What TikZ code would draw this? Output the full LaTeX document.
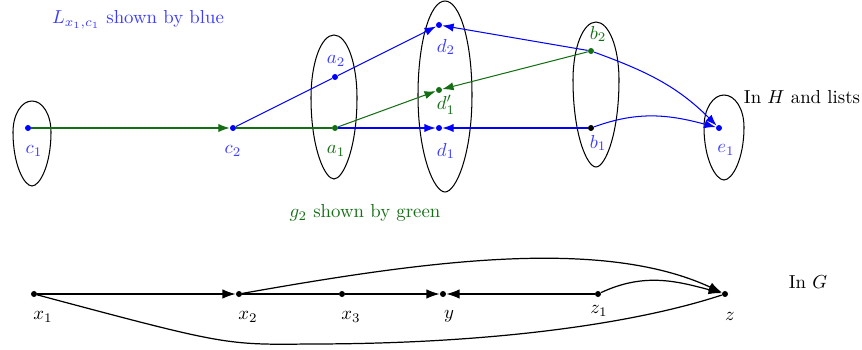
\documentclass[tikz,border=0pt]{standalone}
\usetikzlibrary{arrows.meta}
\newcommand{\eggshape}[5]{% cx, top, widest y, bottom, half-width
  \draw[egg] (#1,#2) .. controls ({#1-0.56*#5},#2) and ({#1-#5},{#3-0.56*(#3-#2)}) .. ({#1-#5},#3)
    .. controls ({#1-#5},{#3+0.62*(#4-#3)}) and ({#1-0.4*#5},#4) .. (#1,#4)
    .. controls ({#1+0.4*#5},#4) and ({#1+#5},{#3+0.62*(#4-#3)}) .. ({#1+#5},#3)
    .. controls ({#1+#5},{#3-0.56*(#3-#2)}) and ({#1+0.56*#5},#2) .. (#1,#2);}
\begin{document}
\begin{tikzpicture}[x=0.532pt,y=-0.532pt,
  dotnode/.style={circle,fill,inner sep=0pt,minimum size=3.2pt},
  lbl/.style={inner sep=0pt},
  arr/.style={-{Latex[length=6pt,width=4.4pt]}},
  barr/.style={-{Latex[length=7pt,width=5pt]}},
  toplines/.style={line width=0.55pt},
  botlines/.style={line width=0.65pt},
  egg/.style={line width=0.55pt}]
\definecolor{gr}{RGB}{20,110,20}
\definecolor{lblue}{RGB}{60,60,255}
\useasboundingbox (0,0) rectangle (862,350);

% ---------- top graph (H) ----------
\node[dotnode,blue] (c1) at (28,128) {};
\node[dotnode,blue] (c2) at (233,128) {};
\node[dotnode,blue] (a2) at (335,77) {};
\node[dotnode,gr] (a1) at (335,128) {};
\node[dotnode,blue] (d2) at (439,25) {};
\node[dotnode,gr] (d1p) at (439,90) {};
\node[dotnode,blue] (d1) at (439,128) {};
\node[dotnode,gr] (b2) at (591,51) {};
\node[dotnode,black] (b1) at (591,128) {};
\node[dotnode,blue] (e1) at (719,128) {};

% labels
\node[lbl,lblue] (lc1) at (34,151) {$c_1$};
\node[lbl,lblue] (lc2) at (233,151) {$c_2$};
\node[lbl,lblue] (la2) at (336,61) {$a_2$};
\node[lbl,gr] (la1) at (336,151) {$a_1$};
\node[lbl,lblue] (ld2) at (446,47) {$d_2$};
\node[lbl,gr] (ld1p) at (446,105) {$d_1'$};
\node[lbl,lblue] (ld1) at (446,151) {$d_1$};
\node[lbl,gr] (lb2) at (598,34) {$b_2$};
\node[lbl,lblue] (lb1) at (598,143) {$b_1$};
\node[lbl,lblue] (le1) at (726,150) {$e_1$};

% eggs
\eggshape{32}{101}{132}{186}{19}
\eggshape{334}{35}{98}{179}{23}
\eggshape{445}{1}{95}{192}{27}
\eggshape{596}{22}{80}{167}{23}
\eggshape{724}{95}{127}{180}{20}

% green edges
\draw[toplines,gr,arr] (c1) -- (c2);
\draw[toplines,gr] (c2) -- (a1);
\draw[toplines,gr,arr] (a1) -- (d1p);
\draw[toplines,gr,arr] (b2) -- (d1p);
% blue edges
\draw[toplines,blue] (c2) -- (a2);
\draw[toplines,blue,arr] (a2) -- (d2);
\draw[toplines,blue,arr] (b2) -- (d2);
\draw[toplines,blue,arr] (a1) -- (d1);
\draw[toplines,blue,arr] (b1) -- (d1);
\draw[toplines,blue,arr] (b2) to[out=-20,in=135] (e1);
\draw[toplines,blue,arr] (b1) to[out=20,in=165] (e1);

% texts
\node[lbl,lblue] (tL) at (138,20) {$L_{x_1,c_1}$ shown by blue};
\node[lbl,gr] (tg) at (365,213) {$g_2$ shown by green};
\node[lbl] (tH) at (802,97) {In $H$ and lists};

% ---------- bottom graph (G) ----------
\node[dotnode] (x1) at (34,294) {};
\node[dotnode] (x2) at (239,294) {};
\node[dotnode] (x3) at (342,294) {};
\node[dotnode] (y) at (443,294) {};
\node[dotnode] (z1) at (598,294) {};
\node[dotnode] (z) at (725,294) {};

\node[lbl] (lx1) at (43,317) {$x_1$};
\node[lbl] (lx2) at (248,317) {$x_2$};
\node[lbl] (lx3) at (351,317) {$x_3$};
\node[lbl] (ly) at (449,316) {$y$};
\node[lbl] (lz1) at (599,311) {$z_1$};
\node[lbl] (lz) at (730,316) {$z$};

\draw[botlines,barr] (x1) -- (x2);
\draw[botlines] (x2) -- (x3);
\draw[botlines,barr] (x3) -- (y);
\draw[botlines,barr] (z1) -- (y);
\draw[botlines,barr] (x2) .. controls (420,262) and (600,236) .. (z);
\draw[botlines,barr] (z1) to[out=25,in=165] (z);
\draw[botlines] (x1) .. controls (225,345) .. (310,344) .. controls (500,344) and (640,322) .. (z);

\node[lbl] (tG) at (808,282) {In $G$};
\end{tikzpicture}
\end{document}
